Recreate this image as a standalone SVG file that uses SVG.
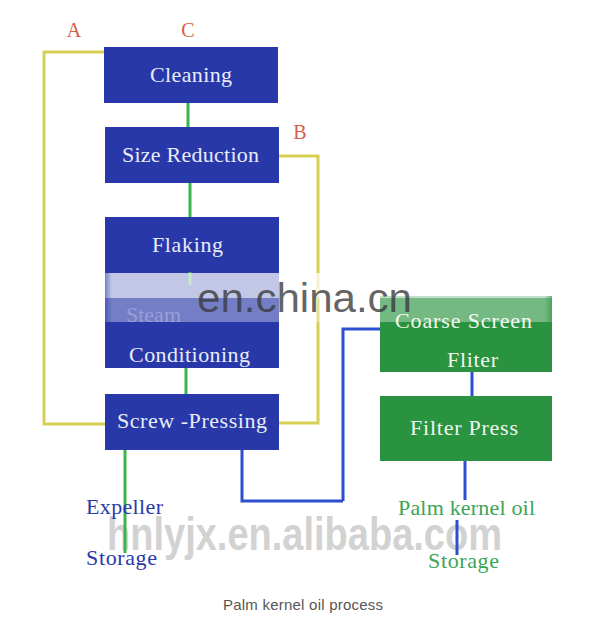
<svg xmlns="http://www.w3.org/2000/svg" width="608" height="627" viewBox="0 0 608 627">
<defs>
<style>
.bbox{fill:#2838a8}
.gbox{fill:#2a9340}
.bt{font-family:"Liberation Serif","Times New Roman",serif;font-size:22px;fill:#e8ebf8}
.gt{font-family:"Liberation Serif","Times New Roman",serif;font-size:22px;fill:#f0f6ee}
.lbl{font-family:"Liberation Serif","Times New Roman",serif;font-size:20px;fill:#d4604a;text-anchor:middle}
.out{font-family:"Liberation Serif","Times New Roman",serif;font-size:22px}
.yl{fill:none;stroke:#d8cf55;stroke-width:3}
.gl{fill:none;stroke:#3ab54a;stroke-width:3}
.bl{fill:none;stroke:#2b4fcf;stroke-width:3}
</style>
<linearGradient id="fadeL" x1="0" x2="1" y1="0" y2="0">
<stop offset="0" stop-color="#fff" stop-opacity="0"/>
<stop offset="0.03" stop-color="#fff" stop-opacity="1"/>
<stop offset="0.97" stop-color="#fff" stop-opacity="1"/>
<stop offset="1" stop-color="#fff" stop-opacity="0"/>
</linearGradient>
</defs>
<rect width="608" height="627" fill="#ffffff"/>

<g id="watermark2">
<text x="107" y="550" font-family="Liberation Sans, Arial, sans-serif" font-weight="bold" font-size="46" fill="#d2d2d2" textLength="395" lengthAdjust="spacingAndGlyphs">hnlyjx.en.alibaba.com</text>
</g>

<g id="connectors">
<polyline class="yl" points="108,52 44,52 44,424 108,424"/>
<polyline class="yl" points="276,156 318,156 318,423 276,423"/>
<line class="gl" x1="188" y1="100" x2="188" y2="130"/>
<line class="gl" x1="190" y1="180" x2="190" y2="220"/>
<line class="gl" x1="186" y1="365" x2="186" y2="397"/>
<line class="gl" x1="125" y1="448" x2="125" y2="553"/>
<polyline class="bl" points="242,448 242,501 343,501"/>
<polyline class="bl" points="343,501 343,329 392,329"/>
<line class="bl" x1="472" y1="370" x2="472" y2="398"/>
<line class="bl" x1="465" y1="459" x2="465" y2="500"/>
<line class="bl" x1="457" y1="520" x2="457" y2="555"/>
</g>

<g id="label-A"><text class="lbl" x="74" y="37">A</text></g>
<g id="label-C"><text class="lbl" x="188" y="37">C</text></g>
<g id="label-B"><text class="lbl" x="300" y="139">B</text></g>

<g id="cleaning">
<rect class="bbox" x="104" y="47" width="174" height="56"/>
<text class="bt" x="191" y="82" text-anchor="middle" textLength="82">Cleaning</text>
</g>
<g id="size-reduction">
<rect class="bbox" x="105" y="127" width="174" height="56"/>
<text class="bt" x="190.5" y="162" text-anchor="middle" textLength="137">Size Reduction</text>
</g>
<g id="flaking">
<rect class="bbox" x="105" y="217" width="174" height="62"/>
<text class="bt" x="187.5" y="252" text-anchor="middle" textLength="71">Flaking</text>
</g>
<g id="steam-conditioning">
<rect class="bbox" x="105" y="279" width="174" height="89"/>
<text class="bt" x="126" y="322" textLength="55" fill-opacity="0.3">Steam</text>
<text class="bt" x="129" y="362" textLength="121">Conditioning</text>
</g>
<line class="gl" x1="190" y1="272" x2="190" y2="285"/>
<g id="screw-pressing">
<rect class="bbox" x="105" y="394" width="174" height="56"/>
<text class="bt" x="192" y="428" text-anchor="middle" textLength="150">Screw -Pressing</text>
</g>
<g id="coarse-screen-filter">
<rect class="gbox" x="380" y="296" width="172" height="76"/>
<text class="gt" x="395" y="328" textLength="137">Coarse Screen</text>
<text class="gt" x="447" y="367" textLength="51">Fliter</text>
</g>
<g id="filter-press">
<rect class="gbox" x="380" y="396" width="172" height="65"/>
<text class="gt" x="464" y="435" text-anchor="middle" textLength="108">Filter Press</text>
</g>

<g id="expeller">
<text class="out" x="86" y="514" fill="#2a3aaa" textLength="77">Expeller</text>
</g>
<g id="expeller-storage">
<text class="out" x="86" y="565" fill="#2a3aaa" textLength="71">Storage</text>
</g>
<g id="palm-kernel-oil">
<text class="out" x="398" y="515" fill="#3aa655" textLength="137">Palm kernel oil</text>
</g>
<g id="oil-storage">
<text class="out" x="428" y="568" fill="#3aa655" textLength="71">Storage</text>
</g>

<g id="watermark1">
<rect x="98" y="273" width="460" height="25" fill="url(#fadeL)" opacity="0.72"/>
<rect x="98" y="298" width="460" height="24" fill="url(#fadeL)" opacity="0.35"/>
<text x="197" y="312" font-family="Liberation Sans, Arial, sans-serif" font-size="40" fill="#3a3a3a" fill-opacity="0.8" textLength="215" lengthAdjust="spacingAndGlyphs">en.china.cn</text>
</g>

<g id="caption">
<text x="303" y="610" text-anchor="middle" font-family="Liberation Sans, Arial, sans-serif" font-size="15" fill="#555555" textLength="160">Palm kernel oil process</text>
</g>
</svg>
